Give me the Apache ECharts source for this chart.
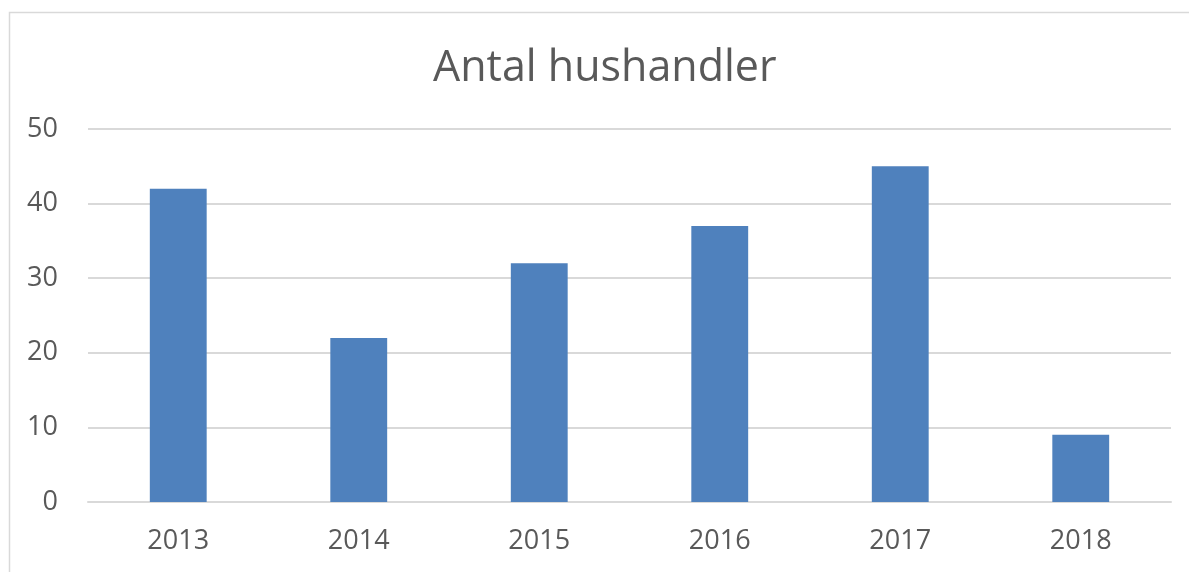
<!DOCTYPE html>
<html>
<head>
<meta charset="utf-8">
<script src="https://cdn.jsdelivr.net/npm/echarts@6/dist/echarts.min.js"></script>
<style>
    html, body { margin: 0; padding: 0; background: #fff; }
    #chart { width: 1189px; height: 572px; }
</style>
</head>
<body>
<div id="chart"></div>
<script>
// data
var years = ['2013', '2014', '2015', '2016', '2017', '2018'];
var households = [42, 22, 32, 37, 45, 9];
var yTicks = [0, 10, 20, 30, 40, 50];

var textColor = '#595959';
var fontFamily = '"Open Sans", "Noto Sans", sans-serif';

var myChart = echarts.init(document.getElementById('chart'));
var option = {
    animation: false,
    title: {
        text: 'Antal hushandler',
        left: 428,
        top: 42,
        textStyle: {
            color: textColor,
            fontFamily: fontFamily,
            fontSize: 43,
            fontWeight: 'normal'
        }
    },
    // chart border
    graphic: [{
        type: 'rect',
        shape: { x: 9.5, y: 12.5, width: 1200, height: 600 },
        style: { fill: 'none', stroke: '#d9d9d9', lineWidth: 1.5 },
        silent: true
    }],
    grid: {
        left: 88,
        right: 18,
        top: 129,
        bottom: 70
    },
    xAxis: {
        type: 'category',
        data: years,
        axisLine: { show: true, lineStyle: { color: '#d9d9d9', width: 2 } },
        axisTick: { show: false },
        axisLabel: {
            color: textColor,
            fontFamily: fontFamily,
            fontSize: 27,
            margin: 26
        }
    },
    yAxis: {
        type: 'value',
        min: yTicks[0],
        max: yTicks[yTicks.length - 1],
        interval: 10,
        axisLine: { show: false },
        axisTick: { show: false },
        axisLabel: {
            color: textColor,
            fontFamily: fontFamily,
            fontSize: 27,
            margin: 30
        },
        splitLine: { lineStyle: { color: '#d9d9d9', width: 2 } }
    },
    series: [{
        type: 'bar',
        data: households,
        barWidth: '31.5%',
        itemStyle: { color: '#4f81bd' }
    }]
};
myChart.setOption(option);
</script>
</body>
</html>
